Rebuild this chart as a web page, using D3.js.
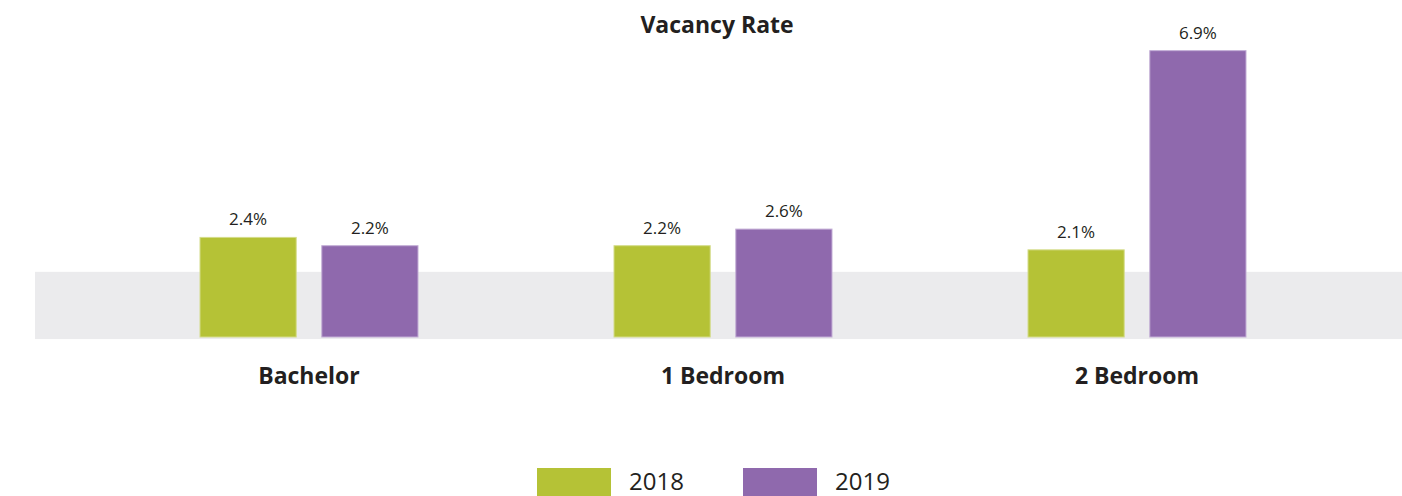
<!DOCTYPE html>
<html>
<head>
<meta charset="utf-8">
<script src="https://cdn.jsdelivr.net/npm/d3@7"></script>
<style>
  body { margin: 0; background: #fff; }
  text { font-family: "Open Sans", sans-serif; fill: #231f20; }
</style>
</head>
<body>
<div id="chart"></div>
<script>
// vacancy rate by unit type
var categories = ["Bachelor", "1 Bedroom", "2 Bedroom"];
var years = ["2018", "2019"];
var rates2018 = [2.4, 2.2, 2.1];
var rates2019 = [2.2, 2.6, 6.9];
var bandRange = [-0.05, 1.57]; // grey shaded band behind bars

var w = 1402, h = 496;
var base = 337;
var colors = ["#b5c236", "#8f69ad"];

var svg = d3.select("#chart").append("svg")
            .attr("width", w)
            .attr("height", h);

var x = d3.scaleBand().domain(categories).range([102, 1344]);
var xi = d3.scaleBand().domain(years).range([0, 218]).paddingInner(0.21);
var y = d3.scaleLinear().domain([0, 7]).range([base, base - 7 * 41.5]);

// grey band
svg.append("rect")
   .attr("x", 35)
   .attr("y", y(bandRange[1]))
   .attr("width", w - 35)
   .attr("height", y(bandRange[0]) - y(bandRange[1]))
   .attr("fill", "#ebebed");

var rows = categories.map(function(c, i) {
    return [{cat: c, year: "2018", v: rates2018[i], k: 0},
            {cat: c, year: "2019", v: rates2019[i], k: 1}];
});

var g = svg.selectAll("g.grp").data(rows).enter().append("g")
           .attr("class", "grp")
           .attr("transform", (d, i) => "translate(" + (x(categories[i]) + (x.bandwidth() - 218) / 2) + ",0)");

g.selectAll("rect").data(d => d).enter().append("rect")
  .attr("x", d => xi(d.year))
  .attr("y", d => y(d.v))
  .attr("width", xi.bandwidth())
  .attr("height", d => y(0) - y(d.v))
  .attr("fill", d => colors[d.k])
  .attr("stroke", d => d.k ? "#c3aed6" : "#d4dc8a")
  .attr("stroke-width", 1);

g.selectAll("text.val").data(d => d).enter().append("text")
  .attr("class", "val")
  .attr("x", d => xi(d.year) + xi.bandwidth() / 2)
  .attr("y", d => y(d.v) - 12)
  .attr("text-anchor", "middle")
  .style("font-size", "17px")
  .text(d => d3.format(".1f")(d.v) + "%");

// category labels
var xAxis = d3.axisBottom(x).tickSize(0).tickPadding(0);
var ax = svg.append("g")
   .attr("transform", "translate(0," + 384 + ")")
   .call(xAxis);
ax.select(".domain").remove();
ax.selectAll("text")
  .attr("dy", 0)
  .style("font-family", "'Open Sans', sans-serif")
  .style("font-size", "23px")
  .style("font-weight", "700")
  .attr("fill", "#231f20");

// title
svg.append("text")
   .attr("x", 717)
   .attr("y", 33)
   .attr("text-anchor", "middle")
   .style("font-size", "23px")
   .style("font-weight", "700")
   .text("Vacancy Rate");

// legend
var leg = svg.selectAll("g.leg").data(years).enter().append("g")
             .attr("class", "leg")
             .attr("transform", (d, i) => "translate(" + (537 + i * 206) + ",468)");
leg.append("rect")
   .attr("width", 74)
   .attr("height", 28)
   .attr("fill", (d, i) => colors[i]);
leg.append("text")
   .attr("x", 92)
   .attr("y", 22)
   .style("font-size", "24px")
   .text(d => d);
</script>
</body>
</html>
